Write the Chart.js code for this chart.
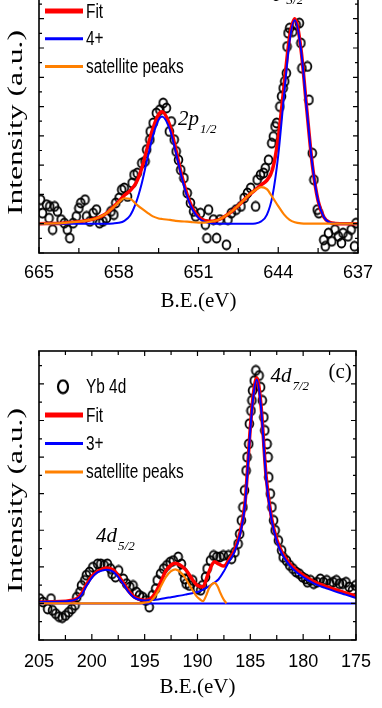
<!DOCTYPE html>
<html lang="en">
<head>
  <meta charset="UTF-8">
  <title>XPS spectra: Mn 2p and Yb 4d</title>
  <script src="https://cdn.jsdelivr.net/npm/chart.js@4"></script>
  <style>
    html, body { margin: 0; padding: 0; background: #fff; }
    body { width: 382px; height: 708px; overflow: hidden; position: relative; }
    .panel { position: absolute; left: 0; width: 382px; }
    #top { top: -60px; height: 380px; }
    #bottom { top: 330px; height: 378px; }
  </style>
</head>
<body>
  <div class="panel" id="top"><canvas id="mnChart"></canvas></div>
  <div class="panel" id="bottom"><canvas id="ybChart"></canvas></div>

  <script>
    // ---- top panel: Mn 2p (its upper part is cut off in the figure) ----
    const mnTickE = [665, 658, 651, 644, 637];
    const mnTickI = [-1, 0, 1, 2, 3, 4, 5, 6, 7, 8];

    const mnPointsE = [664.86, 664.69, 664.35, 664.12, 664.06, 663.80, 663.63, 663.38, 663.06, 662.78,
      662.52, 662.30, 662.01, 661.73, 661.50, 661.33, 660.96, 660.82, 660.53, 660.25,
      659.96, 659.68, 659.39, 659.08, 658.68, 658.43, 658.26, 657.97, 657.74, 657.52,
      657.23, 656.83, 656.66, 656.38, 655.98, 655.69, 655.55, 655.27, 655.24, 654.98,
      654.70, 654.39, 654.10, 653.82, 653.56, 653.39, 653.13, 652.96, 652.76, 652.56,
      652.28, 651.99, 651.71, 651.43, 651.25, 650.83, 650.40, 650.26, 650.12, 649.69,
      649.41, 649.12, 648.41, 648.55, 648.12, 647.70, 647.27, 646.99, 646.70, 646.42,
      645.99, 645.85, 645.56, 645.28, 645.14, 644.85, 644.57, 644.43, 644.28, 644.14,
      643.86, 643.71, 643.57, 643.43, 643.29, 643.23, 643.14, 643.00, 642.72, 642.43,
      642.15, 642.01, 641.92, 641.44, 641.30, 641.01, 640.87, 640.58, 640.44, 640.01,
      639.87, 639.59, 639.30, 639.02, 638.73, 638.45, 638.31, 637.88, 637.60, 637.31, 637.17];
    const mnPointsI = [0.82, 0.36, 0.65, 0.19, 0.59, -0.20, 0.59, 0.42, 0.14, 0.02,
      -0.20, -0.49, 0.02, 0.25, 0.53, 0.71, 0.82, 0.25, 0.08, 0.36,
      0.48, 0.02, 0.08, 0.19, 0.42, 0.31, 0.71, 0.88, 1.16, 1.22,
      0.93, 1.39, 1.67, 1.73, 2.07, 2.13, 2.53, 2.87, 3.15, 3.44,
      3.78, 3.89, 4.12, 3.95, 3.15, 3.49, 2.87, 2.47, 2.18, 1.84,
      1.56, 1.05, 0.71, 0.42, 0.25, 0.36, -0.03, -0.49, 0.48, 0.14,
      -0.49, 0.14, 0.14, -0.72, 0.36, 0.48, 0.59, 0.88, 1.05, 1.22,
      0.59, 1.50, 1.67, 1.73, 1.90, 2.18, 2.75, 2.98, 3.32, 3.44,
      4.00, 4.35, 4.63, 4.86, 5.14, 6.05, 6.51, 6.68, 6.56, 6.79,
      6.85, 6.17, 5.31, 5.37, 4.23, 2.41, 1.50, 0.48, 0.36, -0.55,
      -0.77, -0.32, -0.60, -0.20, -0.43, -0.66, -0.32, -0.43, -0.20, -0.77, 0.02];

    const mnCurveE = [665, 663, 661.5, 660.5, 660, 659.5, 659, 658.5, 658, 657.5,
      657, 656.5, 656, 655.5, 655, 654.5, 654.2, 653.5, 653, 652.5,
      652, 651.5, 651, 650.5, 650, 649.5, 649, 648.5, 648, 647.5,
      647, 646.5, 646, 645.5, 645, 644.5, 644, 643.5, 643, 642.55,
      642, 641.5, 641, 640.5, 640, 639.5, 639, 638, 637];
    const mnFit = [0, 0.02, 0.07, 0.13, 0.18, 0.26, 0.38, 0.56, 0.76, 0.97,
      1.13, 1.38, 1.87, 2.58, 3.25, 3.73, 3.82, 3.33, 2.55, 1.70,
      1.00, 0.51, 0.24, 0.11, 0.08, 0.10, 0.18, 0.30, 0.45, 0.62,
      0.82, 1.00, 1.16, 1.33, 1.48, 1.86, 2.93, 4.66, 6.38, 7.00,
      5.95, 3.92, 1.99, 0.78, 0.23, 0.05, 0.01, 0, 0];
    const mn4plus = [0, 0, 0, 0, 0, 0, 0, 0.01, 0.03, 0.10,
      0.28, 0.70, 1.35, 2.20, 3.00, 3.55, 3.66, 3.20, 2.45, 1.62,
      0.93, 0.46, 0.20, 0.07, 0.02, 0, 0, 0, 0, 0,
      0, 0, 0.01, 0.08, 0.30, 0.96, 2.33, 4.34, 6.25, 6.95,
      5.94, 3.92, 1.99, 0.78, 0.23, 0.05, 0.01, 0, 0];
    const mnSatellite = [0, 0.02, 0.07, 0.13, 0.18, 0.26, 0.38, 0.55, 0.73, 0.87,
      0.85, 0.68, 0.52, 0.38, 0.25, 0.18, 0.16, 0.13, 0.10, 0.08,
      0.07, 0.05, 0.04, 0.04, 0.06, 0.10, 0.18, 0.30, 0.45, 0.62,
      0.82, 1.00, 1.15, 1.25, 1.18, 0.90, 0.60, 0.32, 0.13, 0.05,
      0.01, 0, 0, 0, 0, 0, 0, 0, 0];

    // ---- bottom panel (c): Yb 4d ----
    const ybTickE = [205, 200, 195, 190, 185, 180, 175];
    const ybTickI = [-1, 0, 1, 2, 3, 4, 5, 6];

    const ybPointsE = [204.94, 204.63, 204.18, 203.87, 203.72, 203.42, 203.11, 202.80, 202.50, 202.19,
      201.89, 201.59, 201.43, 201.13, 200.98, 200.67, 200.52, 200.22, 199.91, 199.45,
      199.15, 198.84, 198.53, 198.23, 198.08, 197.77, 197.47, 197.02, 196.71, 196.40,
      196.10, 195.79, 195.49, 195.18, 194.88, 194.57, 194.27, 193.96, 193.81, 193.50,
      193.20, 192.90, 192.59, 192.29, 191.83, 191.53, 191.37, 191.22, 191.07, 190.76,
      190.46, 190.00, 189.70, 189.54, 189.24, 189.09, 188.78, 188.47, 188.17, 187.87,
      187.56, 187.07, 186.77, 186.46, 186.16, 186.01, 185.85, 185.70, 185.55, 185.40,
      185.31, 185.15, 185.09, 184.94, 184.85, 184.79, 184.63, 184.48, 184.17, 184.03,
      183.87, 183.72, 183.63, 183.41, 183.32, 183.26, 183.11, 182.96, 182.80, 182.65,
      182.35, 182.04, 181.89, 181.58, 181.28, 180.97, 180.67, 180.37, 180.06, 179.76,
      179.60, 179.30, 179.00, 178.69, 178.38, 178.08, 177.77, 177.47, 177.17, 176.86,
      176.56, 176.26, 175.95, 175.64, 175.34, 175.04];
    const ybPointsI = [0.13, 0.04, -0.15, 0.13, -0.19, -0.28, -0.36, -0.39, -0.33, -0.24,
      -0.15, -0.05, 0.17, 0.31, 0.49, 0.63, 0.77, 0.86, 0.99, 1.08,
      1.08, 1.04, 1.08, 0.95, 0.81, 0.72, 0.90, 0.67, 0.54, 0.45,
      0.49, 0.31, 0.22, 0.17, 0.08, -0.10, 0.22, 0.40, 0.63, 0.81,
      0.95, 1.04, 1.13, 1.17, 1.27, 1.08, 0.86, 0.67, 0.54, 0.49,
      0.63, 0.40, 0.36, 0.49, 0.72, 0.95, 1.17, 1.31, 1.27, 1.27,
      1.31, 1.31, 1.22, 1.40, 1.63, 1.90, 2.27, 2.63, 3.09, 3.63,
      4.00, 4.36, 4.91, 5.27, 5.55, 5.82, 6.09, 6.37, 6.23, 5.91,
      5.55, 5.09, 4.73, 4.36, 4.00, 3.45, 3.00, 2.63, 2.27, 2.00,
      1.72, 1.45, 1.26, 1.17, 1.04, 0.95, 0.86, 0.81, 0.72, 0.67,
      0.58, 0.63, 0.54, 0.58, 0.67, 0.58, 0.63, 0.54, 0.58, 0.63,
      0.54, 0.54, 0.58, 0.45, 0.36, 0.49];

    const ybCurveE = [205, 203, 202, 201.5, 201, 200.5, 200, 199.5, 199, 198.63,
      198, 197.5, 197, 196.5, 196, 195.5, 195, 194.5, 194, 193.5,
      193, 192.5, 192.1, 191.5, 191, 190.5, 190, 189.5, 189, 188.4,
      188, 187.5, 187, 186.5, 186, 185.5, 185, 184.7, 184.39, 184,
      183.5, 183, 182.5, 182, 181.5, 181, 180, 179, 178, 177, 176, 175];
    const ybFit = [0.04, 0.05, 0.08, 0.12, 0.26, 0.52, 0.74, 0.87, 0.94, 0.97,
      0.92, 0.76, 0.55, 0.33, 0.18, 0.11, 0.09, 0.12, 0.28, 0.57,
      0.89, 1.05, 1.10, 1.02, 0.88, 0.66, 0.49, 0.45, 0.80, 1.14,
      1.08, 1.02, 1.20, 1.45, 1.90, 2.75, 4.80, 5.75, 6.16, 5.45,
      3.45, 2.35, 1.75, 1.40, 1.17, 1.00, 0.77, 0.60, 0.48, 0.38, 0.29, 0.20];
    const yb3plus = [0.04, 0.05, 0.07, 0.11, 0.22, 0.48, 0.70, 0.84, 0.90, 0.92,
      0.87, 0.72, 0.52, 0.30, 0.16, 0.10, 0.08, 0.09, 0.10, 0.12,
      0.15, 0.17, 0.19, 0.22, 0.25, 0.28, 0.31, 0.37, 0.45, 0.57,
      0.66, 0.88, 1.15, 1.40, 1.85, 2.70, 4.75, 5.70, 6.12, 5.40,
      3.40, 2.30, 1.70, 1.35, 1.12, 0.95, 0.72, 0.55, 0.43, 0.33, 0.24, 0.15];
    const ybBaseE = [205, 175];
    const ybBaseI = [0, 0];
    const ybSatE = [205, 195.5, 195, 194.5, 194, 193.5, 193, 192.5, 192.1, 191.6,
      191.2, 190.8, 190.46, 190.1, 189.85, 189.48, 189.2, 188.93, 188.65, 188.38,
      188.1, 187.87, 187.55, 187.26];
    const ybSatellite = [0, 0, 0.02, 0.05, 0.20, 0.45, 0.72, 0.88, 0.93, 0.85,
      0.72, 0.52, 0.36, 0.20, 0.13, 0.06, 0.20, 0.40, 0.52, 0.56,
      0.47, 0.31, 0.12, 0];

    const SANS = "'Liberation Sans', Arial, sans-serif";
    const SERIF = "'Liberation Serif', 'Times New Roman', serif";
    const RED = '#ff0000', BLUE = '#0000ff', ORANGE = '#ff8000';

    function pairs(xs, ys) {
      return xs.map((x, i) => ({ x: x, y: ys[i] }));
    }

    // open oval marker, a bit taller than wide like in the figure
    function ovalMarker(rx, ry, lw) {
      const c = document.createElement('canvas');
      c.width = Math.ceil(2 * rx + lw + 1);
      c.height = Math.ceil(2 * ry + lw + 1);
      const g = c.getContext('2d');
      g.lineWidth = lw;
      g.strokeStyle = '#000';
      g.beginPath();
      g.ellipse(c.width / 2, c.height / 2, rx, ry, 0, 0, Math.PI * 2);
      g.stroke();
      return c;
    }
    const dotMark = ovalMarker(3.9, 4.5, 1.8);
    const legendMark = ovalMarker(5.0, 6.4, 2.2);

    // box frame with inward ticks on all four sides
    const framePlugin = {
      id: 'frame',
      afterDatasetsDraw(chart) {
        const { ctx, chartArea: a, scales: { x, y } } = chart;
        ctx.save();
        ctx.strokeStyle = '#000';
        ctx.lineWidth = 1.2;
        ctx.beginPath();
        const xs = x.ticks.map(t => t.value);
        xs.forEach((v, i) => {
          const p = x.getPixelForValue(v);
          ctx.moveTo(p, a.bottom); ctx.lineTo(p, a.bottom - 6);
          ctx.moveTo(p, a.top); ctx.lineTo(p, a.top + 5);
          if (i < xs.length - 1) {
            const m = x.getPixelForValue((v + xs[i + 1]) / 2);
            ctx.moveTo(m, a.bottom); ctx.lineTo(m, a.bottom - 5);
            ctx.moveTo(m, a.top); ctx.lineTo(m, a.top + 4);
          }
        });
        y.ticks.map(t => t.value).forEach(v => {
          const p = y.getPixelForValue(v);
          ctx.moveTo(a.left, p); ctx.lineTo(a.left + 5, p);
          ctx.moveTo(a.right, p); ctx.lineTo(a.right - 5, p);
          if (v + 0.5 < y.max) {
            const m = y.getPixelForValue(v + 0.5);
            ctx.moveTo(a.left, m); ctx.lineTo(a.left + 3, m);
            ctx.moveTo(a.right, m); ctx.lineTo(a.right - 3, m);
          }
        });
        ctx.stroke();
        ctx.lineWidth = 1.6;
        ctx.strokeRect(a.left, a.top, a.right - a.left, a.bottom - a.top);
        ctx.restore();
      }
    };

    // legend drawn inside the plot, top left; the figure uses a narrow sans face
    const insideLegend = {
      id: 'insideLegend',
      afterDraw(chart, args, opts) {
        const ctx = chart.ctx;
        ctx.save();
        let row = 0;
        chart.data.datasets.forEach(ds => {
          if (ds.inLegend === false) return;
          const y = opts.top + row * opts.gap;
          if (ds.showLine) {
            ctx.strokeStyle = ds.borderColor;
            ctx.lineWidth = ds.legendWidth;
            ctx.beginPath();
            ctx.moveTo(45, y);
            ctx.lineTo(83, y);
            ctx.stroke();
          } else {
            ctx.drawImage(legendMark, 63 - legendMark.width / 2, y - legendMark.height / 2);
          }
          ctx.save();
          ctx.translate(86, y + 1);
          ctx.scale(0.77, 1);
          ctx.font = '20px ' + SANS;
          ctx.textBaseline = 'middle';
          ctx.fillStyle = '#000';
          ctx.fillText(ds.label, 0, 0);
          ctx.restore();
          row++;
        });
        ctx.restore();
      }
    };

    // italic peak names with subscripts, placed at data coordinates
    const peakLabels = {
      id: 'peakLabels',
      afterDraw(chart, args, opts) {
        const { ctx, scales: { x, y } } = chart;
        ctx.save();
        ctx.fillStyle = '#000';
        ctx.textBaseline = 'alphabetic';
        opts.items.forEach(it => {
          const px = x.getPixelForValue(it.x);
          const py = y.getPixelForValue(it.y);
          ctx.font = (it.upright ? '' : 'italic ') + '21px ' + SERIF;
          ctx.fillText(it.main, px, py);
          if (it.sub) {
            const w = ctx.measureText(it.main).width;
            ctx.font = 'italic 13px ' + SERIF;
            ctx.fillText(it.sub, px + w + 1, py + 8);
          }
        });
        ctx.restore();
      }
    };

    // the rotated y title is stretched along its length in the figure
    const sideTitle = {
      id: 'sideTitle',
      afterDraw(chart, args, opts) {
        const { ctx, chartArea: a } = chart;
        ctx.save();
        ctx.font = '20px ' + SERIF;
        const w = ctx.measureText(opts.text).width;
        ctx.translate(17, (a.top + a.bottom) / 2 + opts.shift);
        ctx.rotate(-Math.PI / 2);
        ctx.scale(opts.length / w, 1);
        ctx.textAlign = 'center';
        ctx.textBaseline = 'middle';
        ctx.fillStyle = '#000';
        ctx.fillText(opts.text, 0, 0);
        ctx.restore();
      }
    };

    function curve(label, xs, ys, color, width, legendWidth, order) {
      return {
        label: label,
        data: pairs(xs, ys),
        showLine: true,
        borderColor: color,
        borderWidth: width,
        legendWidth: legendWidth,
        pointRadius: 0,
        tension: 0.4,
        cubicInterpolationMode: 'monotone',
        order: order
      };
    }

    function drawPanel(id, p) {
      new Chart(document.getElementById(id), {
        type: 'scatter',
        data: { datasets: p.datasets },
        options: {
          responsive: true,
          maintainAspectRatio: false,
          animation: false,
          events: [],
          layout: { padding: { top: p.padTop, right: 15, left: 0, bottom: 0 } },
          scales: {
            x: {
              type: 'linear',
              reverse: true,
              min: p.xMin,
              max: p.xMax,
              afterBuildTicks: s => { s.ticks = p.xTicks.map(v => ({ value: v })); },
              afterFit: s => { s.height = p.xHeight; },
              grid: { display: false, drawTicks: false },
              border: { display: false },
              ticks: { color: '#000', padding: p.tickPad, maxRotation: 0, font: { family: SANS, size: 18 } },
              title: {
                display: true,
                text: 'B.E.(eV)',
                color: '#000',
                padding: { top: 0, bottom: p.titlePad },
                font: { family: SERIF, size: 21 }
              }
            },
            y: {
              type: 'linear',
              min: p.yMin,
              max: p.yMax,
              afterBuildTicks: s => { s.ticks = p.yTicks.map(v => ({ value: v })); },
              afterFit: s => { s.width = 39; },
              grid: { display: false, drawTicks: false },
              border: { display: false },
              ticks: { display: false }
            }
          },
          plugins: {
            legend: { display: false },
            tooltip: { enabled: false },
            insideLegend: p.legend,
            peakLabels: { items: p.labels },
            sideTitle: { text: 'Intensity (a.u.)', length: 185, shift: p.titleShift }
          }
        },
        plugins: [framePlugin, insideLegend, peakLabels, sideTitle]
      });
    }

    drawPanel('mnChart', {
      xMin: 637, xMax: 665, xTicks: mnTickE,
      yMin: -1, yMax: 8.8, yTicks: mnTickI,
      padTop: 26, xHeight: 67, tickPad: 9, titlePad: 6, titleShift: 13,
      legend: { top: 43.2, gap: 27.8 },
      labels: [
        { x: 652.8, y: 3.38, main: '2p', sub: '1/2' },
        { x: 645.2, y: 7.78, main: '2p', sub: '3/2' }
      ],
      datasets: [
        { label: 'Mn 2p', data: pairs(mnPointsE, mnPointsI), pointStyle: dotMark, pointRadius: 4.5, showLine: false, order: 4 },
        curve('Fit', mnCurveE, mnFit, RED, 3.5, 5, 3),
        curve('4+', mnCurveE, mn4plus, BLUE, 2, 3, 2),
        curve('satellite peaks', mnCurveE, mnSatellite, ORANGE, 2.2, 3, 1)
      ]
    });

    const ybBase = curve('3+ background', ybBaseE, ybBaseI, BLUE, 2, 3, 2);
    ybBase.inLegend = false;

    drawPanel('ybChart', {
      xMin: 175, xMax: 205, xTicks: ybTickE,
      yMin: -1, yMax: 6.9, yTicks: ybTickI,
      padTop: 21, xHeight: 68, tickPad: 11, titlePad: 8, titleShift: 5,
      legend: { top: 56.7, gap: 28.4 },
      labels: [
        { x: 183.1, y: 6.04, main: '4d', sub: '7/2' },
        { x: 199.6, y: 1.67, main: '4d', sub: '5/2' },
        { x: 177.6, y: 6.15, main: '(c)', upright: true }
      ],
      datasets: [
        { label: 'Yb 4d', data: pairs(ybPointsE, ybPointsI), pointStyle: dotMark, pointRadius: 4.5, showLine: false, order: 4 },
        curve('Fit', ybCurveE, ybFit, RED, 3.5, 5, 3),
        curve('3+', ybCurveE, yb3plus, BLUE, 2, 3, 2),
        ybBase,
        curve('satellite peaks', ybSatE, ybSatellite, ORANGE, 2.2, 3, 1)
      ]
    });
  </script>
</body>
</html>
